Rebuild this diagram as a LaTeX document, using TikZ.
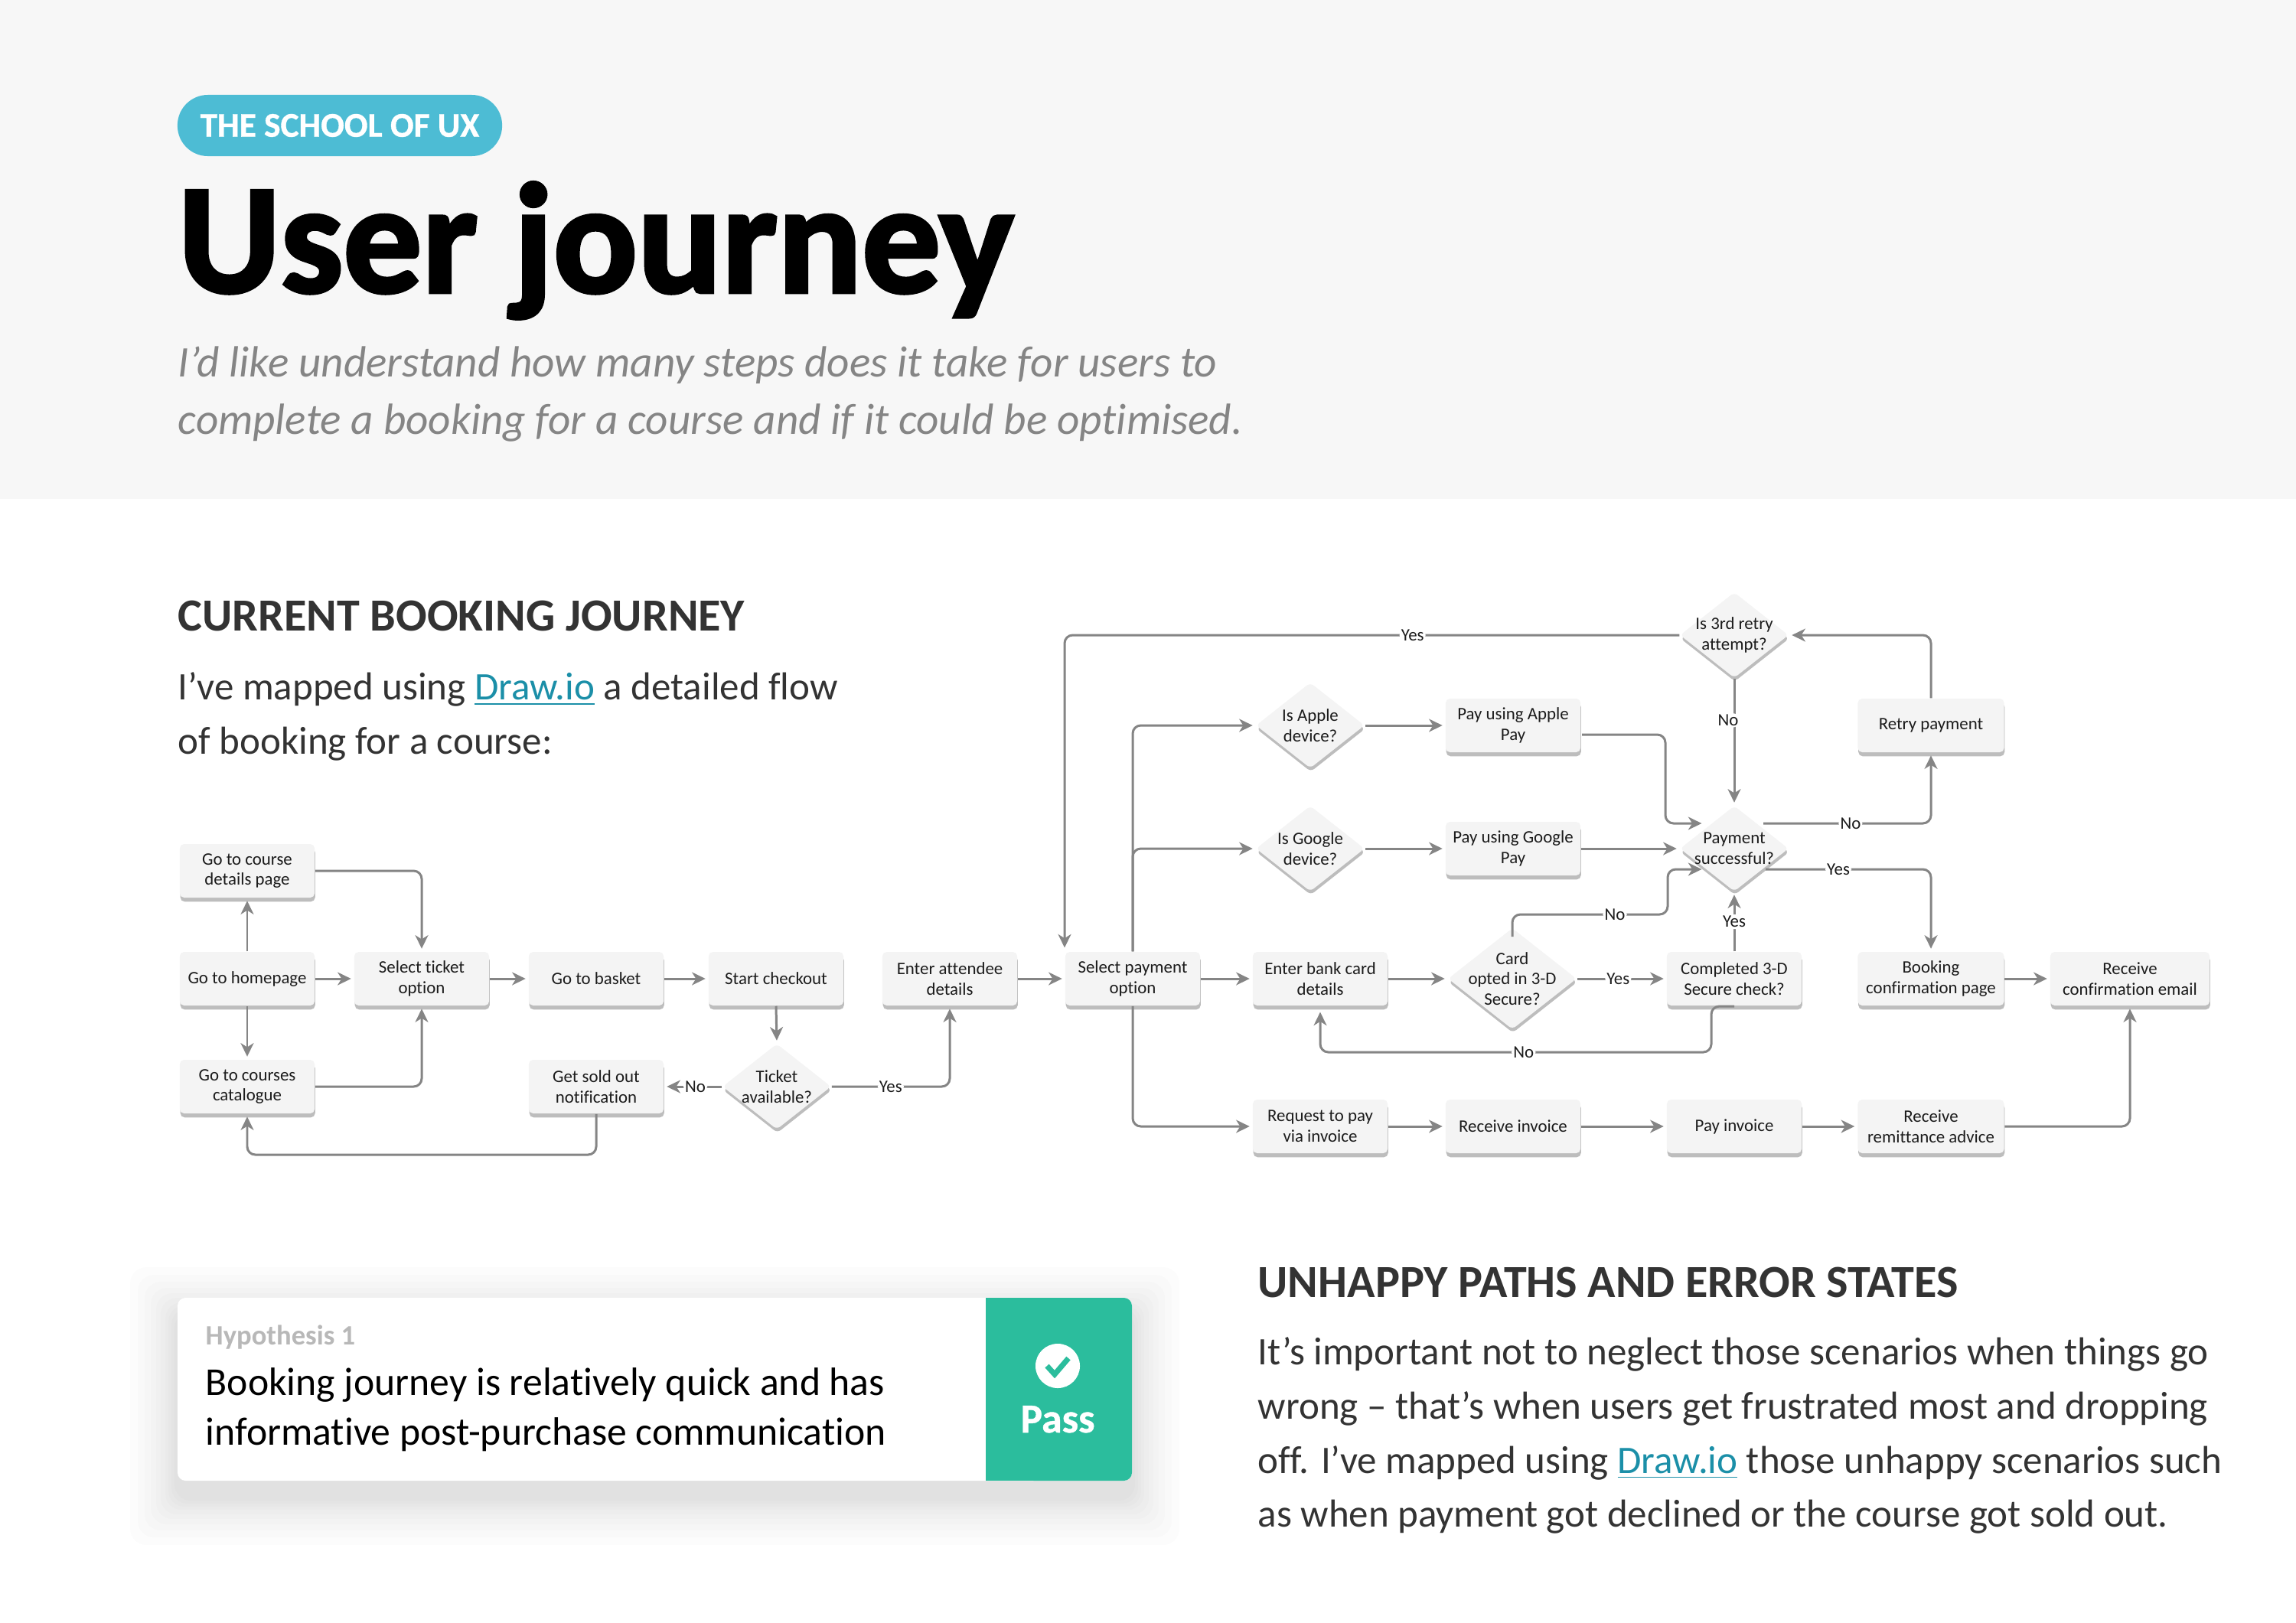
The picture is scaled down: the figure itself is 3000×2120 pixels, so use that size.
\documentclass[tikz,border=0pt]{standalone}
\usepackage{fontspec}
\setmainfont[Ligatures=NoCommon]{Carlito}
\usetikzlibrary{shapes,shadows,arrows.meta}
\definecolor{band}{HTML}{F7F7F7}
\definecolor{pillblue}{HTML}{4DBCD4}
\definecolor{linkblue}{HTML}{1B8FA8}
\definecolor{passgreen}{HTML}{2BBD9D}
\definecolor{boxfill}{HTML}{F4F4F4}
\definecolor{boxedge}{HTML}{BDBDBD}
\definecolor{flowgrey}{HTML}{858585}
\definecolor{ink}{HTML}{1C1C1C}
\definecolor{headink}{HTML}{333333}
\newfontface\titlefont[FakeBold=2.2]{Carlito Bold}
\newfontface\pillfont[FakeBold=0.8]{Carlito Bold}
\tikzset{
  stepbox/.style={rectangle, rounded corners=1.6pt, fill=boxfill, text=ink, inner sep=0pt, yshift=-0.02cm,
    minimum width=1.76cm, minimum height=0.70cm, align=center,
    font=\fontsize{6.5}{7.6}\selectfont,
    general shadow={fill=boxedge, shadow xshift=0.2pt, shadow yshift=-1.5pt}},
  widebox/.style={stepbox, minimum width=1.91cm},
  ask/.style={diamond, rounded corners=1.6pt, aspect=1.27, fill=boxfill, text=ink, inner sep=-2.2pt, yshift=-0.02cm,
    minimum width=1.42cm, minimum height=1.12cm, align=center,
    font=\fontsize{6.5}{7.6}\selectfont,
    general shadow={fill=boxedge, shadow xshift=0.2pt, shadow yshift=-1.3pt}},
  flow/.style={draw=flowgrey, line width=0.85pt, rounded corners=3pt,
    -{Stealth[length=5pt,width=4.8pt,inset=1.5pt]}, shorten >=1pt},
  tag/.style={fill=white, text=ink, inner xsep=0.6pt, inner ysep=0.6pt, font=\fontsize{6.5}{7.6}\selectfont},
  heading/.style={anchor=base west, inner sep=0pt, text=headink, font=\fontsize{17.1}{18}\selectfont\bfseries},
  copytext/.style={anchor=north west, inner sep=0pt, align=left, text=headink, font=\fontsize{14.5}{20.1}\selectfont}
}
\newcommand{\drawlink}{\textcolor{linkblue}{\underline{Draw.io}}}
\begin{document}
\begin{tikzpicture}[x=0.01cm,y=-0.01cm]
\useasboundingbox (0,0) rectangle (3000,2120);
\fill[white] (0,0) rectangle (3000,2120);
\fill[band] (0,0) rectangle (3000,652);

% header
\node[fill=pillblue, text=white, rounded corners=11.3pt, inner sep=0pt, minimum width=4.24cm, minimum height=0.80cm,
  font=\fontsize{12.9}{14}\pillfont] (pill) at (444,164) {THE SCHOOL OF UX};
\node[anchor=base west, inner sep=0pt, text=black, font=\fontsize{58.3}{60}\titlefont] (title) at (232,382) {User journey};
\node[anchor=north west, inner sep=0pt, align=left, text=flowgrey, font=\fontsize{16.25}{21.3}\selectfont\itshape] (intro) at (232,452)
  {I’d like understand how many steps does it take for users to\\complete a booking for a course and if it could be optimised.};

% left text
\node[heading] (currenthead) at (232,824) {CURRENT BOOKING JOURNEY};
\node[copytext] (currenttext) at (232,878) {I’ve mapped using \drawlink{} a detailed flow\\of booking for a course:};

% first row of the flow
\node[stepbox] (details) at (323,1136) {Go to course\\details page};
\node[stepbox] (home) at (323,1277) {Go to homepage};
\node[stepbox] (courses) at (323,1418) {Go to courses\\catalogue};
\node[stepbox] (ticketopt) at (551,1277) {Select ticket\\option};
\node[stepbox] (basket) at (779,1277) {Go to basket};
\node[stepbox] (checkout) at (1014,1277) {Start checkout};
\node[ask] (ticket) at (1015,1418) {Ticket\\available?};
\node[stepbox] (soldout) at (779,1418) {Get sold out\\notification};
\node[stepbox] (attendee) at (1241,1277) {Enter attendee\\details};
\node[stepbox] (payopt) at (1480,1277) {Select payment\\option};

% payment branches
\node[ask] (apple) at (1712,946) {Is Apple\\device?};
\node[ask] (google) at (1712,1107) {Is Google\\device?};
\node[stepbox] (applepay) at (1977,946) {Pay using Apple\\Pay};
\node[stepbox] (googlepay) at (1977,1107) {Pay using Google\\Pay};
\node[stepbox] (bankcard) at (1725,1277) {Enter bank card\\details};
\node[ask] (opted) at (1976,1277) {Card\\opted in 3-D\\Secure?};
\node[stepbox] (secure) at (2266,1277) {Completed 3-D\\Secure check?};
\node[ask] (success) at (2266,1107) {Payment\\successful?};
\node[ask] (third) at (2266,828) {Is 3rd retry\\attempt?};
\node[widebox] (retry) at (2523,946) {Retry payment};
\node[widebox] (booking) at (2523,1277) {Booking\\confirmation page};
\node[stepbox, minimum width=2.08cm] (email) at (2783,1277) {Receive\\confirmation email};
\node[stepbox] (request) at (1725,1470) {Request to pay\\via invoice};
\node[stepbox] (invoice) at (1977,1470) {Receive invoice};
\node[stepbox] (payinv) at (2266,1470) {Pay invoice};
\node[widebox] (remit) at (2523,1470) {Receive\\remittance advice};

% connector ends
\coordinate (ticketcorner) at (1241,1420);
\coordinate (soldcorner) at (779,1509);
\coordinate (coursecorner) at (323,1509);
\coordinate (thirdcorner) at (1391,830);
\coordinate (payoptin) at (1391,1242);
\coordinate (appleout) at (2067,960);
\coordinate (applecorner) at (2176,960);
\coordinate (applecorner2) at (2176,1076);
\coordinate (applein) at (2227,1076);
\coordinate (cardcorner) at (1976,1195);
\coordinate (cardcorner2) at (2179,1195);
\coordinate (cardcorner3) at (2179,1136);
\coordinate (cardin) at (2227,1136);
\coordinate (failout) at (2304,1076);
\coordinate (failcorner) at (2523,1076);
\coordinate (passout) at (2307,1136);
\coordinate (passcorner) at (2523,1136);
\coordinate (secureout) at (2266,1315);
\coordinate (securecorner) at (2236,1315);
\coordinate (securecorner2) at (2236,1375);
\coordinate (bankcorner) at (1725,1375);
\coordinate (bankin) at (1725,1319);
\coordinate (optedout) at (1976,1224);

% connectors, left part
\draw[flow] (home.north) -- (details.south);
\draw[flow] (home.south) -- (courses.north);
\draw[flow] (home) -- (ticketopt);
\draw[flow] (details.east) -| (ticketopt.north);
\draw[flow] (courses.east) -| (ticketopt.south);
\draw[flow] (ticketopt) -- (basket);
\draw[flow] (basket) -- (checkout);
\draw[flow] (checkout.south) -- (ticket.north);
\draw[flow] (ticket.west) -- node[tag, pos=0.46] (noticket) {No} (soldout.east);
\draw[flow] (ticket.east) -- node[tag, pos=0.5] (yesticket) {Yes} (ticketcorner) -- (attendee.south);
\draw[flow] (soldout.south) -- (soldcorner) -- (coursecorner) -- (courses.south);
\draw[flow] (attendee) -- (payopt);

% connectors, payment part
\draw[flow] (third.west) -- node[tag, pos=0.434] (yesthird) {Yes} (thirdcorner) -- (payoptin);
\draw[flow] (payopt.north) |- (apple.west);
\draw[flow] (payopt.north) |- (google.west);
\draw[flow] (payopt.south) |- (request.west);
\draw[flow] (payopt) -- (bankcard);
\draw[flow] (apple) -- (applepay);
\draw[flow] (google) -- (googlepay);
\draw[flow] (bankcard) -- (opted);
\draw[flow] (opted.east) -- node[tag, pos=0.46] (yesopted) {Yes} (secure.west);
\draw[flow] (secure.north) -- node[tag, pos=0.5] (yessecure) {Yes} (success.south);
\draw[flow] (googlepay.east) -- (success.west);
\draw[flow] (appleout) -- (applecorner) -- (applecorner2) -- (applein);
\draw[flow] (optedout) -- (cardcorner) -- node[tag, pos=0.66] (nocard) {No} (cardcorner2) -- (cardcorner3) -- (cardin);
\draw[flow] (third.south) -- node[tag, pos=0.33, xshift=-0.08cm] (nothird) {No} (success.north);
\draw[flow] (failout) -- node[tag, pos=0.52] (nofail) {No} (failcorner) -- (retry.south);
\draw[flow] (passout) -- node[tag, pos=0.44] (yespass) {Yes} (passcorner) -- (booking.north);
\draw[flow] (retry.north) |- (third.east);
\draw[flow] (secureout) -- (securecorner) -- (securecorner2) -- node[tag, pos=0.48] (nosecure) {No} (bankcorner) -- (bankin);
\draw[flow] (booking) -- (email);
\draw[flow] (request) -- (invoice);
\draw[flow] (invoice) -- (payinv);
\draw[flow] (payinv) -- (remit);
\draw[flow] (remit.east) -| (email.south);

% hypothesis card
\foreach \g in {62,52,43,35,28,22,16,12,8,4}
  \fill[black, opacity=0.011, rounded corners=6pt] (232-\g,1696+22-\g) rectangle (1479+\g,1935+22+\g);
\fill[white, rounded corners=3pt] (232,1696) rectangle (1479,1935);
\fill[passgreen, rounded corners=3pt] (1340,1696) rectangle (1479,1935);
\fill[passgreen] (1288,1696) rectangle (1380,1935);
\node[anchor=base west, inner sep=0pt, text=black!28, font=\fontsize{10.4}{12}\selectfont\bfseries] (hyplabel) at (268,1757) {Hypothesis 1};
\node[anchor=north west, inner sep=0pt, align=left, text=black, font=\fontsize{14.7}{18.4}\selectfont] (hyptext) at (268,1787)
  {Booking journey is relatively quick and has\\informative post-purchase communication};
\node[circle, fill=white, minimum size=0.58cm, inner sep=0pt] (passmark) at (1382,1785) {};
\draw[passgreen, line width=2pt] (1368,1785) -- (1378,1796) -- (1396,1775);
\node[text=white, inner sep=0pt, anchor=base, font=\fontsize{15.3}{16}\pillfont] (passlabel) at (1382,1872) {Pass};

% right text
\node[heading] (unhappyhead) at (1643,1695) {UNHAPPY PATHS AND ERROR STATES};
\node[copytext] (unhappytext) at (1643,1747)
  {It’s important not to neglect those scenarios when things go\\wrong – that’s when users get frustrated most and dropping\\off. I’ve mapped using \drawlink{} those unhappy scenarios such\\as when payment got declined or the course got sold out.};
\end{tikzpicture}
\end{document}
